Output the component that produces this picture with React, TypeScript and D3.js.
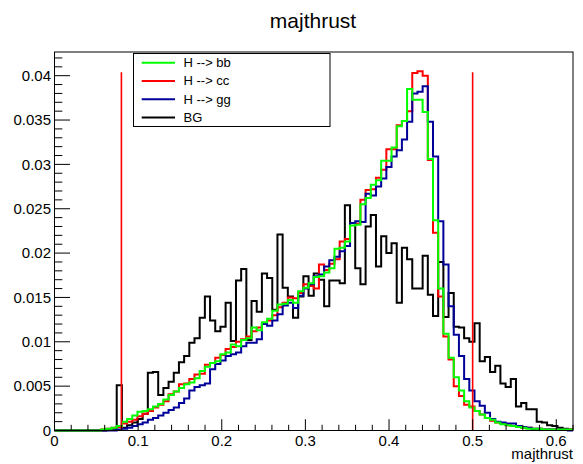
import React from 'react';
import * as d3 from 'd3';

// Histogram binning (ROOT TH1F: 100 bins in [0, 0.62])
const X_MIN = 0;
const X_MAX = 0.62;
const N_BINS = 100;
const Y_MAX = 0.04267;

// Bin contents in units of 1e-3 (normalised histograms)
const bbValues = [
  0, 0, 0, 0, 0, 0, 0, 0, 0, 0.1,
  0.2, 0.3, 0.5, 1.0, 1.3, 1.7, 2.1, 2.2, 2.4, 2.7,
  3.0, 3.5, 4.0, 4.4, 4.8, 5.2, 5.4, 5.9, 6.7, 7.2,
  7.6, 7.8, 8.6, 8.8, 9.7, 9.5, 10.2, 10.4, 11.6, 11.3,
  12.2, 12.6, 13.5, 14.2, 14.3, 14.7, 14.4, 15.7, 16.1, 16.6,
  17.3, 17.4, 17.8, 18.3, 20.5, 20.6, 21.3, 23.1, 23.2, 25.5,
  26.2, 27.7, 28.2, 30.4, 30.4, 31.9, 34.3, 34.9, 38.5, 37.3,
  37.3, 35.9, 30.6, 23.7, 16.0, 10.9, 8.2, 6.0, 4.5, 3.3,
  2.6, 2.2, 1.8, 1.4, 1.2, 0.9, 0.7, 0.6, 0.5, 0.4,
  0.3, 0.2, 0.2, 0.2, 0.1, 0.1, 0.1, 0.1, 0.1, 0.1,
];
const ccValues = [
  0, 0, 0, 0, 0, 0, 0, 0, 0, 0.1,
  0.2, 0.3, 0.4, 0.8, 1.0, 1.2, 1.6, 1.9, 2.2, 2.6,
  2.9, 3.3, 4.1, 4.4, 5.2, 5.3, 5.8, 6.3, 6.4, 7.4,
  7.6, 8.2, 8.5, 9.2, 9.4, 10.0, 10.3, 10.6, 11.2, 11.6,
  12.1, 12.4, 13.0, 13.9, 14.4, 15.0, 14.9, 15.5, 16.5, 16.3,
  16.0, 18.7, 18.1, 18.8, 19.3, 21.3, 21.6, 23.4, 23.3, 26.0,
  27.1, 27.2, 28.5, 29.4, 31.7, 31.7, 34.4, 34.9, 36.0, 40.3,
  40.5, 40.0, 30.5, 22.3, 15.1, 10.6, 8.0, 5.0, 3.9, 2.9,
  2.7, 2.2, 1.8, 1.4, 1.1, 0.9, 0.8, 0.6, 0.5, 0.4,
  0.3, 0.3, 0.2, 0.2, 0.1, 0.1, 0.1, 0.1, 0.1, 0.1,
];
const ggValues = [
  0, 0, 0, 0, 0, 0, 0, 0, 0, 0,
  0, 0, 0.1, 0.2, 0.3, 0.5, 0.7, 0.9, 1.2, 1.4,
  1.7, 2.0, 2.3, 2.6, 3.1, 3.6, 4.5, 4.9, 5.1, 5.3,
  6.9, 7.5, 7.9, 8.4, 8.6, 8.8, 9.5, 9.9, 9.9, 10.3,
  12.0, 11.8, 12.4, 13.1, 14.1, 14.4, 13.8, 15.2, 16.0, 16.5,
  17.4, 17.6, 18.5, 19.2, 19.6, 20.2, 20.8, 23.4, 23.6, 23.5,
  26.7, 26.5, 27.5, 28.4, 29.7, 30.9, 31.6, 32.8, 34.8, 38.0,
  38.2, 38.8, 34.8, 30.9, 23.6, 18.7, 14.0, 10.8, 8.4, 5.8,
  4.5, 3.3, 2.8, 2.0, 1.3, 1.0, 0.9, 0.8, 0.8, 0.5,
  0.4, 0.3, 0.2, 0.2, 0.1, 0.1, 0.1, 0.1, 0.1, 0,
];
const bgValues = [
  0, 0, 0, 0, 0, 0, 0, 0, 0, 0,
  0.1, 0.2, 5.1, 0.3, 0.6, 0.9, 1.3, 1.9, 6.5, 6.6,
  4.0, 4.8, 5.5, 6.5, 7.7, 8.4, 9.9, 10.4, 12.7, 15.1,
  12.4, 11.2, 11.7, 14.4, 10.1, 16.9, 18.2, 10.2, 14.6, 13.4,
  17.7, 17.2, 13.6, 22.1, 16.1, 15.1, 12.7, 15.1, 17.4, 15.2,
  17.7, 17.0, 14.0, 16.9, 16.9, 16.6, 25.4, 23.4, 18.3, 16.5,
  23.0, 24.3, 18.5, 21.9, 20.0, 21.1, 14.4, 20.6, 19.3, 16.0,
  16.0, 19.7, 15.3, 12.9, 19.0, 12.8, 15.5, 11.7, 11.6, 10.4,
  10.0, 12.1, 7.8, 8.3, 6.6, 7.3, 5.3, 4.9, 5.8, 2.7,
  3.1, 2.4, 2.4, 1.0, 0.9, 0.6, 0.5, 0.3, 0.2, 0.1,
];

const seriesNames = ['H --> bb', 'H --> cc', 'H --> gg', 'BG'];
const seriesColors = ['#00ff00', '#ff0000', '#000099', '#000000'];
const seriesValues = [bbValues, ccValues, ggValues, bgValues];
const drawOrder = [3, 1, 2, 0];

const cutValues = [0.08, 0.5];
const cutHeight = 0.0404;

const xMajorTicks = [0, 0.1, 0.2, 0.3, 0.4, 0.5, 0.6];
const yMajorTicks = [0, 0.005, 0.01, 0.015, 0.02, 0.025, 0.03, 0.035, 0.04];

const W = 583;
const H = 464;
const FRAME = { l: 54.5, r: 573, t: 52, b: 430.5 };
const FONT = '"Liberation Sans", Arial, Helvetica, sans-serif';

export default function App() {
  const x = d3.scaleLinear().domain([X_MIN, X_MAX]).range([FRAME.l, FRAME.r]);
  const y = d3.scaleLinear().domain([0, Y_MAX]).range([FRAME.b, FRAME.t]);
  const bw = (X_MAX - X_MIN) / N_BINS;

  const stepLine = d3
    .line<[number, number]>()
    .x((d) => x(d[0]))
    .y((d) => y(d[1]))
    .curve(d3.curveStepAfter);

  const histPath = (vals: number[]) => {
    const pts: [number, number][] = vals.map((v, i) => [X_MIN + i * bw, v * 1e-3]);
    pts.push([X_MAX, vals[vals.length - 1] * 1e-3]);
    return stepLine(pts) || '';
  };

  const xMinor = d3.range(0, Math.round((X_MAX - X_MIN) / 0.02) + 1).map((i) => X_MIN + i * 0.02);
  const yMinor = d3.range(0, Math.floor(Y_MAX / 0.001) + 1).map((i) => i * 0.001);

  const fmt = (v: number) => String(Number(v.toFixed(4)));

  const legend = { x1: 133.5, y1: 53.5, x2: 330, y2: 126.5 };
  const rowH = (legend.y2 - legend.y1) / 4;

  return (
    <svg
      width={W}
      height={H}
      style={{ position: 'absolute', left: 0, top: 0, background: '#fff' }}
      fontFamily={FONT}
    >
      <rect x={0} y={0} width={W} height={H} fill="#fff" />
      <text x={313} y={28} fontSize={21} textAnchor="middle" fill="#000">
        majthrust
      </text>

      {/* histograms */}
      {drawOrder.map((si) => (
        <path
          key={si}
          d={histPath(seriesValues[si])}
          fill="none"
          stroke={seriesColors[si]}
          strokeWidth={2}
        />
      ))}

      {/* cut lines */}
      {cutValues.map((c, i) => (
        <line
          key={i}
          x1={x(c)}
          x2={x(c)}
          y1={y(0)}
          y2={y(cutHeight)}
          stroke="#ff0000"
          strokeWidth={1.6}
        />
      ))}

      {/* frame */}
      <rect
        x={FRAME.l}
        y={FRAME.t}
        width={FRAME.r - FRAME.l}
        height={FRAME.b - FRAME.t}
        fill="none"
        stroke="#000"
        strokeWidth={1}
      />

      {/* x ticks */}
      {xMinor.map((t, i) => {
        const major = xMajorTicks.some((m) => Math.abs(m - t) < 1e-9);
        return (
          <line
            key={'xm' + i}
            x1={x(t)}
            x2={x(t)}
            y1={FRAME.b}
            y2={FRAME.b - (major ? 11.3 : 5.7)}
            stroke="#000"
            strokeWidth={1}
          />
        );
      })}
      {xMajorTicks.map((t, i) => (
        <text key={'xl' + i} x={x(t)} y={446} fontSize={15} textAnchor="middle" fill="#000">
          {fmt(t)}
        </text>
      ))}
      <text x={FRAME.r} y={459} fontSize={15} textAnchor="end" fill="#000">
        majthrust
      </text>

      {/* y ticks */}
      {yMinor.map((t, i) => {
        const major = yMajorTicks.some((m) => Math.abs(m - t) < 1e-9);
        return (
          <line
            key={'ym' + i}
            x1={FRAME.l}
            x2={FRAME.l + (major ? 15.5 : 7.8)}
            y1={y(t)}
            y2={y(t)}
            stroke="#000"
            strokeWidth={1}
          />
        );
      })}
      {yMajorTicks.map((t, i) => (
        <text key={'yl' + i} x={51} y={y(t) + 5.3} fontSize={15} textAnchor="end" fill="#000">
          {fmt(t)}
        </text>
      ))}

      {/* legend */}
      <rect
        x={legend.x1}
        y={legend.y1}
        width={legend.x2 - legend.x1}
        height={legend.y2 - legend.y1}
        fill="#fff"
        stroke="#000"
        strokeWidth={1}
      />
      {seriesNames.map((name, i) => {
        const cy = legend.y1 + rowH * (i + 0.5);
        return (
          <g key={'lg' + i}>
            <line x1={141.7} x2={175} y1={cy} y2={cy} stroke={seriesColors[i]} strokeWidth={2} />
            <text x={183.5} y={cy + 4.6} fontSize={13} fill="#000">
              {name}
            </text>
          </g>
        );
      })}
    </svg>
  );
}
